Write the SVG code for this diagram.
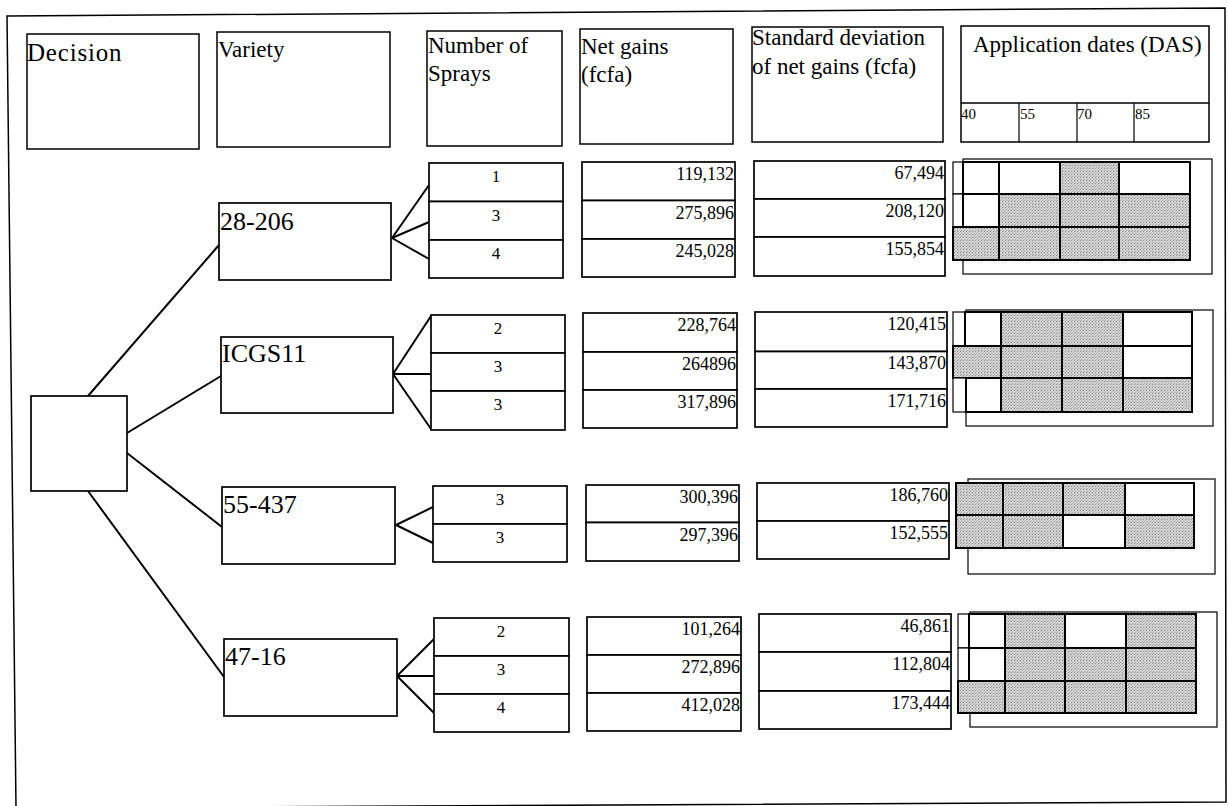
<svg xmlns="http://www.w3.org/2000/svg" width="1228" height="806" viewBox="0 0 1228 806">
<defs>
<pattern id="dots" width="3" height="3" patternUnits="userSpaceOnUse">
<rect width="3" height="3" fill="#dadada"/>
<rect x="0" y="0" width="1" height="1" fill="#7c7c7c"/>
<rect x="1" y="2" width="1" height="1" fill="#9a9a9a"/>
<rect x="2" y="1" width="1" height="1" fill="#b4b4b4"/>
</pattern>
<style>
.frame{fill:none;stroke:#000;stroke-width:1.5}
.box{fill:#fff;stroke:#000;stroke-width:1.7}
.hbox{fill:#fff;stroke:#000;stroke-width:1.5}
.cell{stroke:#000;stroke-width:2}
.s{fill:url(#dots)}
.w{fill:#fff}
.thin{fill:#fff;stroke:#000;stroke-width:1.2}
.conn line{stroke:#000;stroke-width:2}
text{font-family:"Liberation Serif","Times New Roman",serif;fill:#000}
.h{font-size:23px}
.big{font-size:26px}
.num{font-size:17px;text-anchor:middle}
.val{font-size:18px;text-anchor:end}
.das{font-size:15px}
</style>
</defs>
<rect width="1228" height="806" fill="#fff"/>
<polygon class="frame" points="7,16 1225,8 1226,802 16,808"/>

<g id="header-decision"><rect class="hbox" x="27" y="34" width="172" height="115"/><text x="27" y="61" style="font-size:25px;letter-spacing:0.8px">Decision</text></g>
<g id="header-variety"><rect class="hbox" x="217" y="32" width="173" height="115"/><text class="h" x="218" y="57">Variety</text></g>
<g id="header-sprays"><rect class="hbox" x="427" y="31" width="135" height="115"/><text class="h" x="428" y="53">Number of</text><text class="h" x="428" y="81">Sprays</text></g>
<g id="header-netgains"><rect class="hbox" x="580" y="29" width="153" height="115"/><text class="h" x="581" y="54">Net gains</text><text class="h" x="581" y="82">(fcfa)</text></g>
<g id="header-stddev"><rect class="hbox" x="752" y="27" width="191" height="115"/><text class="h" x="752" y="45">Standard deviation</text><text class="h" x="752" y="74">of net gains (fcfa)</text></g>
<g id="header-dates"><rect class="hbox" x="961" y="26" width="248" height="116"/><line x1="961" y1="103" x2="1209" y2="103" stroke="#000" stroke-width="1.5"/><line x1="1019" y1="103" x2="1019" y2="142" stroke="#000" stroke-width="1.2"/><line x1="1077" y1="103" x2="1077" y2="142" stroke="#000" stroke-width="1.2"/><line x1="1134" y1="103" x2="1134" y2="142" stroke="#000" stroke-width="1.2"/><text class="h" x="973" y="52">Application dates (DAS)</text><text class="das" x="961" y="119">40</text><text class="das" x="1020" y="119">55</text><text class="das" x="1077" y="119">70</text><text class="das" x="1135" y="119">85</text></g>

<g class="conn" id="connectors">
<line x1="88" y1="396" x2="219" y2="245"/>
<line x1="127" y1="433" x2="221" y2="376"/>
<line x1="127" y1="453" x2="222" y2="527"/>
<line x1="88" y1="491" x2="224" y2="677"/>
<line x1="392" y1="238" x2="429" y2="185"/>
<line x1="392" y1="238" x2="429" y2="222"/>
<line x1="392" y1="238" x2="429" y2="259"/>
<line x1="393" y1="374" x2="431" y2="316"/>
<line x1="393" y1="374" x2="431" y2="374"/>
<line x1="393" y1="374" x2="431" y2="429"/>
<line x1="396" y1="525" x2="433" y2="507"/>
<line x1="396" y1="525" x2="433" y2="543"/>
<line x1="397" y1="676" x2="434" y2="639"/>
<line x1="397" y1="676" x2="434" y2="676"/>
<line x1="397" y1="676" x2="434" y2="713"/>
</g>

<g id="root"><rect class="box" x="31" y="396" width="96" height="95"/></g>

<g id="v-28-206"><rect class="box" x="219" y="203" width="172" height="77"/><text class="big" x="220" y="230">28-206</text></g>
<g id="v-ICGS11"><rect class="box" x="221" y="337" width="172" height="76"/><text class="big" x="222" y="362">ICGS11</text></g>
<g id="v-55-437"><rect class="box" x="222" y="487" width="173" height="77"/><text class="big" x="223" y="513">55-437</text></g>
<g id="v-47-16"><rect class="box" x="224" y="639" width="173" height="77"/><text class="big" x="225" y="665">47-16</text></g>

<g id="sprays-28-206">
<rect class="box" x="429" y="163" width="134" height="38.5"/><rect class="box" x="429" y="201.5" width="134" height="38.5"/><rect class="box" x="429" y="240" width="134" height="38"/>
<text class="num" x="496" y="182">1</text><text class="num" x="496" y="220.5">3</text><text class="num" x="496" y="259">4</text>
</g>
<g id="sprays-ICGS11">
<rect class="box" x="431" y="315" width="134" height="38"/><rect class="box" x="431" y="353" width="134" height="38"/><rect class="box" x="431" y="391" width="134" height="39"/>
<text class="num" x="498" y="334">2</text><text class="num" x="498" y="372">3</text><text class="num" x="498" y="410">3</text>
</g>
<g id="sprays-55-437">
<rect class="box" x="433" y="486" width="134" height="38"/><rect class="box" x="433" y="524" width="134" height="38"/>
<text class="num" x="500" y="505">3</text><text class="num" x="500" y="543">3</text>
</g>
<g id="sprays-47-16">
<rect class="box" x="434" y="618" width="135" height="38"/><rect class="box" x="434" y="656" width="135" height="38"/><rect class="box" x="434" y="694" width="135" height="38"/>
<text class="num" x="501" y="637">2</text><text class="num" x="501" y="675">3</text><text class="num" x="501" y="713">4</text>
</g>

<g id="net-28-206">
<rect class="box" x="582" y="162" width="153" height="38.5"/><rect class="box" x="582" y="200.5" width="153" height="38.5"/><rect class="box" x="582" y="239" width="153" height="38"/>
<text class="val" x="734" y="180">119,132</text><text class="val" x="734" y="218.5">275,896</text><text class="val" x="734" y="257">245,028</text>
</g>
<g id="net-ICGS11">
<rect class="box" x="583" y="313" width="154" height="39"/><rect class="box" x="583" y="352" width="154" height="38"/><rect class="box" x="583" y="390" width="154" height="38"/>
<text class="val" x="736" y="331">228,764</text><text class="val" x="736" y="370">264896</text><text class="val" x="736" y="408">317,896</text>
</g>
<g id="net-55-437">
<rect class="box" x="586" y="485" width="153" height="37.5"/><rect class="box" x="586" y="522.5" width="153" height="38.5"/>
<text class="val" x="738" y="503">300,396</text><text class="val" x="738" y="541">297,396</text>
</g>
<g id="net-47-16">
<rect class="box" x="587" y="617" width="154" height="38"/><rect class="box" x="587" y="655" width="154" height="38"/><rect class="box" x="587" y="693" width="154" height="38"/>
<text class="val" x="740" y="635">101,264</text><text class="val" x="740" y="673">272,896</text><text class="val" x="740" y="711">412,028</text>
</g>

<g id="sd-28-206">
<rect class="box" x="754" y="161" width="191" height="38"/><rect class="box" x="754" y="199" width="191" height="38"/><rect class="box" x="754" y="237" width="191" height="39"/>
<text class="val" x="944" y="179">67,494</text><text class="val" x="944" y="217">208,120</text><text class="val" x="944" y="255">155,854</text>
</g>
<g id="sd-ICGS11">
<rect class="box" x="755" y="312" width="192" height="39.5"/><rect class="box" x="755" y="351.5" width="192" height="37.5"/><rect class="box" x="755" y="389" width="192" height="38"/>
<text class="val" x="946" y="330">120,415</text><text class="val" x="946" y="369">143,870</text><text class="val" x="946" y="407">171,716</text>
</g>
<g id="sd-55-437">
<rect class="box" x="757" y="483" width="192" height="38"/><rect class="box" x="757" y="521" width="192" height="38"/>
<text class="val" x="948" y="501">186,760</text><text class="val" x="948" y="539">152,555</text>
</g>
<g id="sd-47-16">
<rect class="box" x="759" y="614" width="192" height="38"/><rect class="box" x="759" y="652" width="192" height="39"/><rect class="box" x="759" y="691" width="192" height="38"/>
<text class="val" x="950" y="632">46,861</text><text class="val" x="950" y="670">112,804</text><text class="val" x="950" y="709">173,444</text>
</g>

<g id="dates-28-206">
<rect class="thin" x="963" y="159" width="249" height="115"/>
<rect class="thin" x="953" y="162" width="10" height="32"/><rect class="cell w" x="963" y="162" width="36" height="32"/><rect class="cell w" x="999" y="162" width="61" height="32"/><rect class="cell s" x="1060" y="162" width="59" height="32"/><rect class="cell w" x="1119" y="162" width="71" height="32"/>
<rect class="thin" x="953" y="194" width="10" height="33"/><rect class="cell w" x="963" y="194" width="36" height="33"/><rect class="cell s" x="999" y="194" width="61" height="33"/><rect class="cell s" x="1060" y="194" width="59" height="33"/><rect class="cell s" x="1119" y="194" width="71" height="33"/>
<rect class="cell s" x="953" y="227" width="46" height="33"/><rect class="cell s" x="999" y="227" width="61" height="33"/><rect class="cell s" x="1060" y="227" width="59" height="33"/><rect class="cell s" x="1119" y="227" width="71" height="33"/>
</g>
<g id="dates-ICGS11">
<rect class="thin" x="966" y="310" width="247" height="116"/>
<rect class="thin" x="953" y="312" width="12" height="34"/><rect class="cell w" x="965" y="312" width="36" height="34"/><rect class="cell s" x="1001" y="312" width="61" height="34"/><rect class="cell s" x="1062" y="312" width="61" height="34"/><rect class="cell w" x="1123" y="312" width="69" height="34"/>
<rect class="cell s" x="953" y="346" width="48" height="32"/><rect class="cell s" x="1001" y="346" width="61" height="32"/><rect class="cell s" x="1062" y="346" width="61" height="32"/><rect class="cell w" x="1123" y="346" width="69" height="32"/>
<rect class="thin" x="953" y="378" width="13" height="34"/><rect class="cell w" x="966" y="378" width="35" height="34"/><rect class="cell s" x="1001" y="378" width="61" height="34"/><rect class="cell s" x="1062" y="378" width="61" height="34"/><rect class="cell s" x="1123" y="378" width="69" height="34"/>
</g>
<g id="dates-55-437">
<rect class="thin" x="968" y="479" width="247" height="95"/>
<rect class="cell s" x="956" y="483" width="47" height="32"/><rect class="cell s" x="1003" y="483" width="60" height="32"/><rect class="cell s" x="1063" y="483" width="62" height="32"/><rect class="cell w" x="1125" y="483" width="69" height="32"/>
<rect class="cell s" x="956" y="515" width="47" height="33"/><rect class="cell s" x="1003" y="515" width="60" height="33"/><rect class="cell w" x="1063" y="515" width="62" height="33"/><rect class="cell s" x="1125" y="515" width="69" height="33"/>
</g>
<g id="dates-47-16">
<rect class="thin" x="970" y="612" width="247" height="115"/>
<rect class="thin" x="958" y="614" width="11" height="34"/><rect class="cell w" x="969" y="614" width="36" height="34"/><rect class="cell s" x="1005" y="614" width="60" height="34"/><rect class="cell w" x="1065" y="614" width="61" height="34"/><rect class="cell s" x="1126" y="614" width="70" height="34"/>
<rect class="thin" x="958" y="648" width="11" height="33"/><rect class="cell w" x="969" y="648" width="36" height="33"/><rect class="cell s" x="1005" y="648" width="60" height="33"/><rect class="cell s" x="1065" y="648" width="61" height="33"/><rect class="cell s" x="1126" y="648" width="70" height="33"/>
<rect class="cell s" x="958" y="681" width="47" height="32"/><rect class="cell s" x="1005" y="681" width="60" height="32"/><rect class="cell s" x="1065" y="681" width="61" height="32"/><rect class="cell s" x="1126" y="681" width="70" height="32"/>
</g>
</svg>
